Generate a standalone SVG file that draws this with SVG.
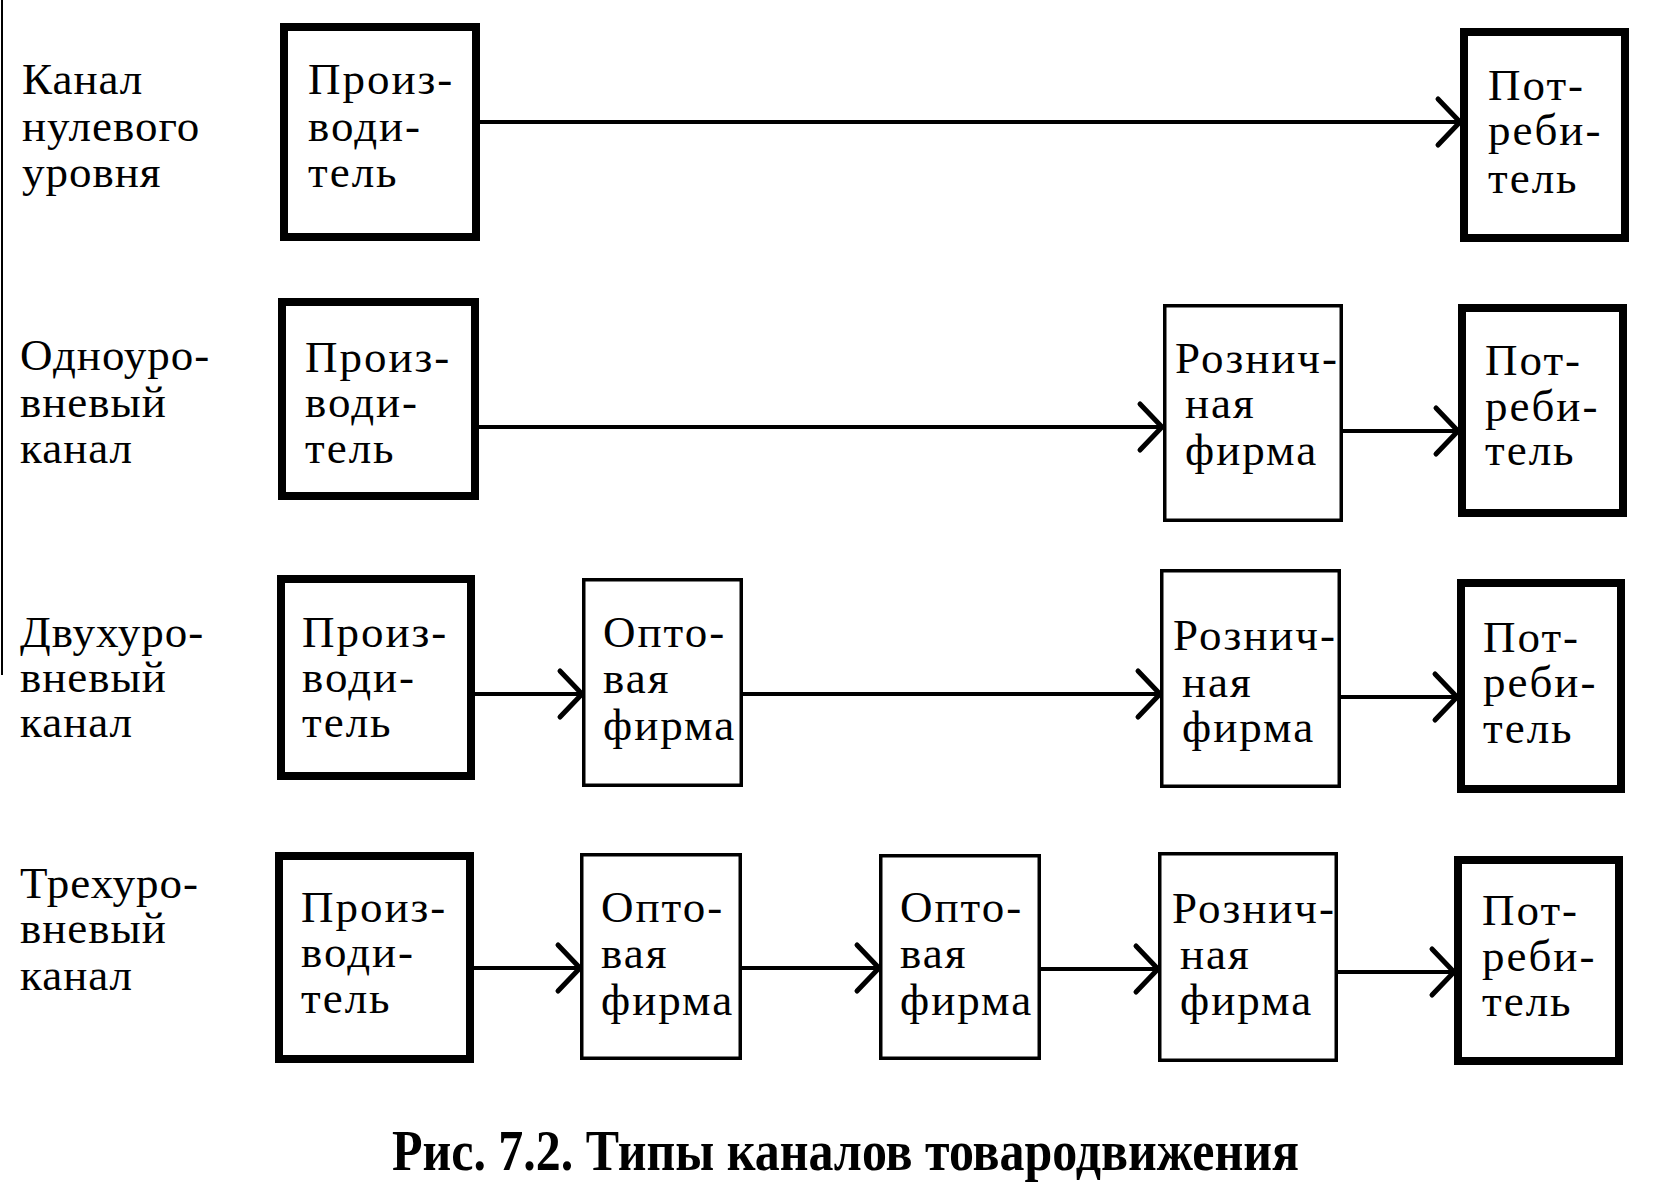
<svg xmlns="http://www.w3.org/2000/svg" width="1671" height="1186" viewBox="0 0 1671 1186">
<defs>
<style>
.thick{fill:#fff;stroke:#000;stroke-width:8}
.thin{fill:#fff;stroke:#000;stroke-width:3.5}
.t{font-family:"Liberation Serif","Times New Roman",serif;font-size:45px;letter-spacing:2px;fill:#000}
.lbl{font-family:"Liberation Serif","Times New Roman",serif;font-size:45px;letter-spacing:1px;fill:#000}
.cap{font-family:"Liberation Serif","Times New Roman",serif;font-size:56px;font-weight:bold;fill:#000}
.c{stroke:#000;stroke-width:4;fill:none;marker-end:url(#chev)}
</style>
<marker id="chev" markerUnits="userSpaceOnUse" viewBox="-30 -30 40 60" refX="0" refY="0" markerWidth="40" markerHeight="60" orient="auto">
<path d="M-22,-23 L0,0 L-22,23" fill="none" stroke="#000" stroke-width="5" stroke-linecap="round"/>
</marker>
</defs>
<rect width="1671" height="1186" fill="#fff"/>
<line x1="2" y1="0" x2="2" y2="675" stroke="#000" stroke-width="2"/>

<g id="labels">
<text class="lbl" x="22" y="94">Канал</text>
<text class="lbl" x="22" y="141">нулевого</text>
<text class="lbl" x="22" y="187">уровня</text>
<text class="lbl" x="20" y="370">Одноуро-</text>
<text class="lbl" x="20" y="417">вневый</text>
<text class="lbl" x="20" y="463">канал</text>
<text class="lbl" x="20" y="647">Двухуро-</text>
<text class="lbl" x="20" y="692">вневый</text>
<text class="lbl" x="20" y="737">канал</text>
<text class="lbl" x="20" y="898">Трехуро-</text>
<text class="lbl" x="20" y="943">вневый</text>
<text class="lbl" x="20" y="990">канал</text>
</g>

<g id="connectors">
<line class="c" x1="480" y1="122" x2="1460" y2="122"/>
<line class="c" x1="479" y1="427" x2="1162" y2="427"/>
<line class="c" x1="1343" y1="431" x2="1458" y2="431"/>
<line class="c" x1="475" y1="694" x2="582" y2="694"/>
<line class="c" x1="743" y1="694" x2="1160" y2="694"/>
<line class="c" x1="1341" y1="697" x2="1457" y2="697"/>
<line class="c" x1="474" y1="968" x2="580" y2="968"/>
<line class="c" x1="742" y1="968" x2="879" y2="968"/>
<line class="c" x1="1041" y1="969" x2="1158" y2="969"/>
<line class="c" x1="1338" y1="972" x2="1454" y2="972"/>
</g>

<g id="p1"><rect class="thick" x="284" y="27" width="192" height="210"/>
<text class="t" x="308" y="94">Произ-</text><text class="t" x="308" y="141">води-</text><text class="t" x="308" y="187">тель</text></g>
<g id="c1"><rect class="thick" x="1464" y="32" width="161" height="206"/>
<text class="t" x="1488" y="100">Пот-</text><text class="t" x="1488" y="145">реби-</text><text class="t" x="1488" y="193">тель</text></g>

<g id="p2"><rect class="thick" x="282" y="302" width="193" height="194"/>
<text class="t" x="305" y="372">Произ-</text><text class="t" x="305" y="417">води-</text><text class="t" x="305" y="463">тель</text></g>
<g id="r2"><rect class="thin" x="1164.75" y="305.75" width="176.5" height="214.5"/>
<text class="t" x="1175" y="373">Рознич-</text><text class="t" x="1185" y="418">ная</text><text class="t" x="1185" y="465">фирма</text></g>
<g id="c2"><rect class="thick" x="1462" y="308" width="161" height="205"/>
<text class="t" x="1485" y="375">Пот-</text><text class="t" x="1485" y="421">реби-</text><text class="t" x="1485" y="465">тель</text></g>

<g id="p3"><rect class="thick" x="281" y="579" width="190" height="197"/>
<text class="t" x="302" y="647">Произ-</text><text class="t" x="302" y="692">води-</text><text class="t" x="302" y="737">тель</text></g>
<g id="o3"><rect class="thin" x="583.75" y="579.75" width="157.5" height="205.5"/>
<text class="t" x="603" y="647">Опто-</text><text class="t" x="603" y="693">вая</text><text class="t" x="603" y="740">фирма</text></g>
<g id="r3"><rect class="thin" x="1161.75" y="570.75" width="177.5" height="215.5"/>
<text class="t" x="1173" y="650">Рознич-</text><text class="t" x="1182" y="697">ная</text><text class="t" x="1182" y="742">фирма</text></g>
<g id="c3"><rect class="thick" x="1461" y="583" width="160" height="206"/>
<text class="t" x="1483" y="652">Пот-</text><text class="t" x="1483" y="697">реби-</text><text class="t" x="1483" y="743">тель</text></g>

<g id="p4"><rect class="thick" x="279" y="856" width="191" height="203"/>
<text class="t" x="301" y="922">Произ-</text><text class="t" x="301" y="967">води-</text><text class="t" x="301" y="1013">тель</text></g>
<g id="o4a"><rect class="thin" x="581.75" y="854.75" width="158.5" height="203.5"/>
<text class="t" x="601" y="922">Опто-</text><text class="t" x="601" y="968">вая</text><text class="t" x="601" y="1015">фирма</text></g>
<g id="o4b"><rect class="thin" x="880.75" y="855.75" width="158.5" height="202.5"/>
<text class="t" x="900" y="922">Опто-</text><text class="t" x="900" y="968">вая</text><text class="t" x="900" y="1015">фирма</text></g>
<g id="r4"><rect class="thin" x="1159.75" y="853.75" width="176.5" height="206.5"/>
<text class="t" x="1172" y="923">Рознич-</text><text class="t" x="1180" y="969">ная</text><text class="t" x="1180" y="1015">фирма</text></g>
<g id="c4"><rect class="thick" x="1458" y="860" width="161" height="201"/>
<text class="t" x="1482" y="925">Пот-</text><text class="t" x="1482" y="971">реби-</text><text class="t" x="1482" y="1016">тель</text></g>

<text class="cap" x="392" y="1170" textLength="907" lengthAdjust="spacingAndGlyphs">Рис. 7.2. Типы каналов товародвижения</text>
</svg>
